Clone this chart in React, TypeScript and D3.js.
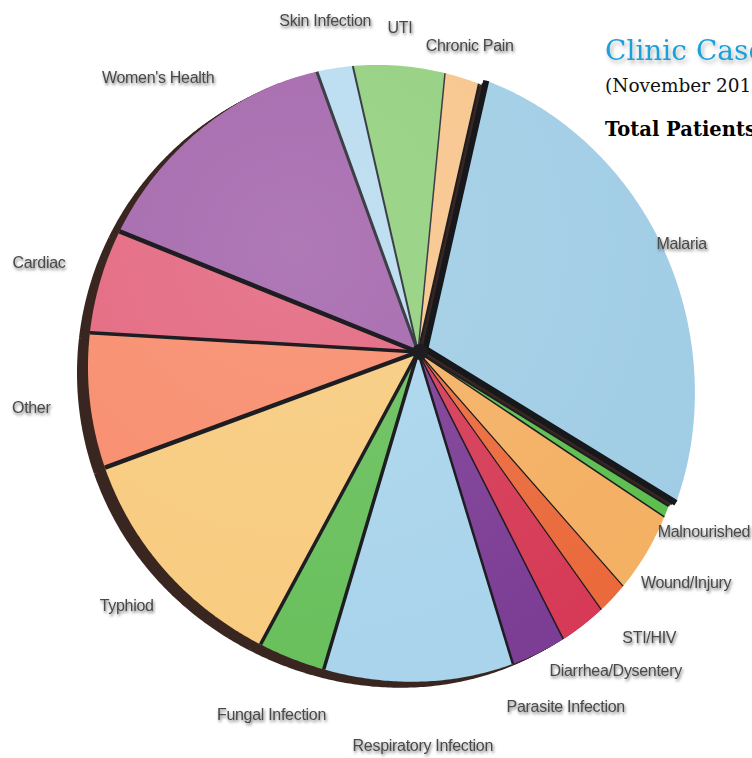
import { useEffect, useRef } from 'react';
import * as d3 from 'd3';

// Clinic cases by diagnosis (share of patients, %)
const categories = [
  'Malaria',
  'Malnourished',
  'Wound/Injury',
  'STI/HIV',
  'Diarrhea/Dysentery',
  'Parasite Infection',
  'Respiratory Infection',
  'Fungal Infection',
  'Typhiod',
  'Other',
  'Cardiac',
  "Women's Health",
  'Skin Infection',
  'UTI',
  'Chronic Pain',
];
const shares = [27.9, 0.6, 4.1, 1.6, 2.4, 2.8, 9.7, 3.5, 12.5, 7.1, 5.5, 13.6, 1.9, 4.9, 1.9];

const sliceColors = [
  '#a0cde5', '#5dbf4f', '#f4b063', '#ea6a3c', '#d63a56', '#7c3d95', '#a9d4ec', '#67bf5a',
  '#f8cb7e', '#f88c6c', '#e3677f', '#a466ac', '#b9dcf0', '#93d07f', '#f8c58c',
];
// width of the dark edge at the start of each slice
const edgeWidths = [2, 2, 1.5, 1.2, 1.2, 1.5, 2.5, 3.5, 3.5, 4.5, 3.5, 4.5, 3, 2, 1.5];
// distance of each label centre from the pie centre
const labelRadius = [312, 350, 362, 371, 375, 380, 380, 369, 359, 366, 371, 374, 353, 340, 330];

const titleLines = ['Clinic Cases', '(November 2013)', 'Total Patients:'];

const W = 752;
const H = 758;

const App = () => {
  const svgRef = useRef<SVGSVGElement>(null);

  useEffect(() => {
    if (!svgRef.current) return;
    const svg = d3.select(svgRef.current);
    svg.selectAll('*').remove();

    const cx = 395;
    const cy = 367;
    const R = 307;
    const hub: [number, number] = [418, 352]; // where the slice edges meet
    const startA = (16.5 * Math.PI) / 180;
    const deg = Math.PI / 180;

    // the disc is seen in perspective: the far upper right is squeezed,
    // the near lower right swells a little
    const rimR = (a: number) => {
      const far = Math.max(0, Math.cos(a - 60 * deg));
      const near = Math.max(0, Math.cos(a - 150 * deg));
      return R - 22 * far * far + 13 * Math.pow(near, 4);
    };
    const rim = (a: number) => [cx + rimR(a) * Math.sin(a), cy - rimR(a) * Math.cos(a)];

    const defs = svg.append('defs');
    const lblShadow = defs.append('filter').attr('id', 'lbl-shadow')
      .attr('x', '-10%').attr('y', '-30%').attr('width', '130%').attr('height', '180%');
    lblShadow.append('feDropShadow')
      .attr('dx', 1).attr('dy', 2).attr('stdDeviation', 1.5)
      .attr('flood-color', '#000').attr('flood-opacity', 0.55);
    const ttlShadow = defs.append('filter').attr('id', 'ttl-shadow')
      .attr('x', '-10%').attr('y', '-30%').attr('width', '130%').attr('height', '180%');
    ttlShadow.append('feDropShadow')
      .attr('dx', 2).attr('dy', 3).attr('stdDeviation', 2)
      .attr('flood-color', '#000').attr('flood-opacity', 0.3);

    const grad = defs.append('radialGradient').attr('id', 'sheen')
      .attr('gradientUnits', 'userSpaceOnUse')
      .attr('cx', cx - 100).attr('cy', cy - 120).attr('r', 460);
    grad.append('stop').attr('offset', '0%').attr('stop-color', '#fff').attr('stop-opacity', 0.12);
    grad.append('stop').attr('offset', '100%').attr('stop-color', '#fff').attr('stop-opacity', 0);

    const pie = d3.pie<number>()
      .sort(null)
      .startAngle(startA)
      .endAngle(startA + 2 * Math.PI);
    const arcs = pie(shares);

    const slicePath = (a0: number, a1: number) => {
      const p = d3.path();
      p.moveTo(hub[0], hub[1]);
      const n = Math.max(2, Math.ceil((a1 - a0) / (0.5 * deg)));
      for (let k = 0; k <= n; k++) {
        const [x, y] = rim(a0 + ((a1 - a0) * k) / n);
        p.lineTo(x, y);
      }
      p.closePath();
      return p.toString();
    };

    const explode = (i: number) => (i === 0 ? 8 : 0);
    const offset = (d: d3.PieArcDatum<number>, i: number) => {
      const m = (d.startAngle + d.endAngle) / 2;
      return [explode(i) * Math.sin(m), -explode(i) * Math.cos(m)];
    };

    // dark 3D side of the disc
    const side = svg.append('g');
    [1, 2, 3, 4, 5].forEach(k => {
      side.selectAll(null)
        .data(arcs)
        .enter()
        .append('path')
        .attr('d', d => slicePath(d.startAngle, d.endAngle))
        .attr('transform', (d, i) => {
          const [ox, oy] = offset(d, i);
          return `translate(${ox - k * 2.2},${oy + k * 1.2})`;
        })
        .attr('fill', '#3a2620');
    });

    const slices = svg.append('g');
    slices.selectAll('path')
      .data(arcs)
      .enter()
      .append('path')
      .attr('d', d => slicePath(d.startAngle, d.endAngle))
      .attr('transform', (d, i) => {
        const [ox, oy] = offset(d, i);
        return `translate(${ox},${oy})`;
      })
      .attr('fill', (d, i) => sliceColors[i]);

    // soft shading over each slice
    slices.selectAll(null)
      .data(arcs)
      .enter()
      .append('path')
      .attr('d', d => slicePath(d.startAngle, d.endAngle))
      .attr('transform', (d, i) => {
        const [ox, oy] = offset(d, i);
        return `translate(${ox},${oy})`;
      })
      .attr('fill', 'url(#sheen)');

    // radial dividing edges
    const edges = svg.append('g').attr('stroke-linecap', 'butt');
    edges.selectAll('line')
      .data(arcs)
      .enter()
      .append('line')
      .attr('x1', hub[0]).attr('y1', hub[1])
      .attr('x2', d => rim(d.startAngle)[0])
      .attr('y2', d => rim(d.startAngle)[1])
      .attr('stroke', (d, i) => (i >= 12 ? '#3c3f46' : '#1d1d22'))
      .attr('stroke-width', (d, i) => edgeWidths[i]);

    // the pulled-out slice gets a heavy outline on both straight sides
    const lead = arcs[0];
    const [lx, ly] = offset(lead, 0);
    edges.selectAll(null)
      .data([lead.startAngle, lead.endAngle])
      .enter()
      .append('line')
      .attr('transform', `translate(${lx},${ly})`)
      .attr('x1', hub[0]).attr('y1', hub[1])
      .attr('x2', a => rim(a)[0])
      .attr('y2', a => rim(a)[1])
      .attr('stroke', '#16181c')
      .attr('stroke-width', 6);

    svg.append('circle')
      .attr('cx', hub[0] + 2).attr('cy', hub[1]).attr('r', 8)
      .attr('fill', '#1d1d22');

    // labels
    svg.append('g')
      .selectAll('text')
      .data(arcs)
      .enter()
      .append('text')
      .attr('x', (d, i) => cx + labelRadius[i] * Math.sin((d.startAngle + d.endAngle) / 2))
      .attr('y', (d, i) => cy - labelRadius[i] * Math.cos((d.startAngle + d.endAngle) / 2))
      .attr('text-anchor', 'middle')
      .attr('dominant-baseline', 'central')
      .attr('font-family', '"Liberation Sans", Arial, sans-serif')
      .attr('font-size', 16)
      .attr('letter-spacing', -0.3)
      .attr('fill', '#484848')
      .attr('filter', 'url(#lbl-shadow)')
      .text((d, i) => categories[i]);

    // title block, cut by the right edge as in the original
    svg.append('text')
      .attr('x', 605).attr('y', 60)
      .attr('font-family', '"DejaVu Serif", Georgia, serif')
      .attr('font-size', 28)
      .attr('fill', '#1fa0d8')
      .attr('filter', 'url(#ttl-shadow)')
      .text(titleLines[0]);
    svg.append('text')
      .attr('x', 605).attr('y', 92)
      .attr('font-family', '"DejaVu Serif", Georgia, serif')
      .attr('font-size', 18.5)
      .attr('fill', '#111')
      .text(titleLines[1]);
    svg.append('text')
      .attr('x', 605).attr('y', 136)
      .attr('font-family', '"DejaVu Serif", Georgia, serif')
      .attr('font-size', 19.5)
      .attr('font-weight', 'bold')
      .attr('fill', '#000')
      .text(titleLines[2]);
  }, []);

  return (
    <svg
      ref={svgRef}
      width={W}
      height={H}
      style={{ position: 'absolute', left: 0, top: 0, background: '#fff', overflow: 'hidden' }}
    />
  );
};

export default App;
